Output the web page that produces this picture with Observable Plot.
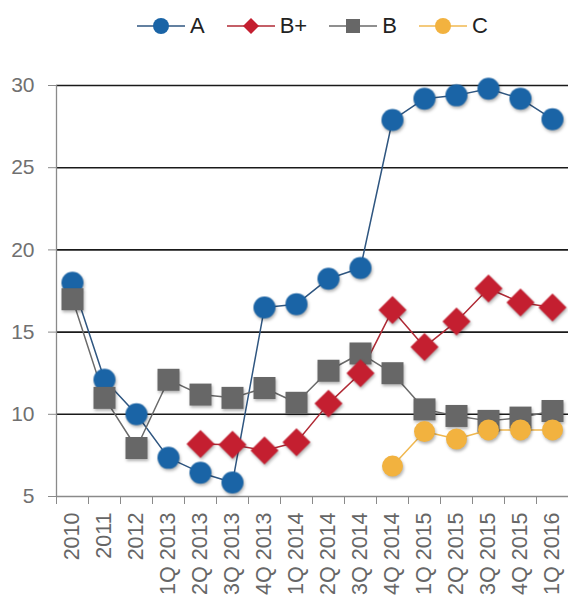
<!DOCTYPE html>
<html><head><meta charset="utf-8">
<script src="https://cdn.jsdelivr.net/npm/d3@7"></script>
<script src="https://cdn.jsdelivr.net/npm/@observablehq/plot@0.6"></script>
<style>
body{margin:0;background:#fff;font-family:"Liberation Sans",Arial,sans-serif;}
#legend{height:52px;display:flex;align-items:center;gap:22px;padding-left:137px;box-sizing:border-box;}
.item{display:flex;align-items:center;gap:5px;font-size:22px;color:#222;}
#chart svg g[aria-label="dot"]{filter:drop-shadow(1px 2px 1.5px rgba(0,0,0,0.3));}
</style></head>
<body>
<div id="legend"></div>
<div id="chart"></div>
<script>
const categories = ["2010","2011","2012","1Q 2013","2Q 2013","3Q 2013","4Q 2013","1Q 2014","2Q 2014","3Q 2014","4Q 2014","1Q 2015","2Q 2015","3Q 2015","4Q 2015","1Q 2016"];
const seriesNames = ["A","B+","B","C"];
const valuesA     = [18.0,12.1,10.0,7.35,6.45,5.85,16.5,16.7,18.25,18.9,27.9,29.2,29.4,29.8,29.2,27.95];
const valuesBplus = [null,null,null,null,8.2,8.15,7.8,8.3,10.65,12.5,16.35,14.1,15.65,17.65,16.8,16.5];
const valuesB     = [17.0,11.0,7.95,12.1,11.2,11.0,11.6,10.7,12.65,13.7,12.5,10.3,9.9,9.6,9.8,10.2];
const valuesC     = [null,null,null,null,null,null,null,null,null,null,6.85,8.95,8.5,9.05,9.05,9.05];
const yTicks = [5,10,15,20,25,30];

const styles = {
  "A":  {fill:"#1a64a6", line:"#2f5680", symbol:"circle", r:11, lsym:"circle"},
  "B+": {fill:"#c41f30", line:"#b02a35", symbol:"diamond2", r:12.6, lsym:"diamond"},
  "B":  {fill:"#676767", line:"#6a6a6a", symbol:"square", r:12.4, lsym:"square"},
  "C":  {fill:"#f2b23f", line:"#f0b850", symbol:"circle", r:10.5, lsym:"circle"}
};
const valueLists = [valuesA, valuesBplus, valuesB, valuesC];

function rowsFor(name, vals){
  return categories.map((c,i)=>({cat:c, value:vals[i], series:name})).filter(d=>d.value!=null);
}
const data = {};
seriesNames.forEach((n,i)=>data[n]=rowsFor(n, valueLists[i]));

// legend
const legend = document.getElementById("legend");
seriesNames.forEach(n=>{
  const s = styles[n];
  const item = document.createElement("div");
  item.className="item";
  let marker;
  if (s.lsym==="circle") marker = `<circle cx="24" cy="10" r="8" fill="${s.fill}"/>`;
  else if (s.lsym==="square") marker = `<rect x="17" y="3" width="14" height="14" fill="${s.fill}"/>`;
  else marker = `<path d="M24 2 L32 10 L24 18 L16 10 Z" fill="${s.fill}"/>`;
  item.innerHTML = `<svg width="48" height="20"><line x1="0" x2="48" y1="10" y2="10" stroke="${s.line}" stroke-width="1.3"/>${marker}</svg><span>${n}</span>`;
  legend.appendChild(item);
});

const order = ["A","B","B+","C"];
const marks = [
  Plot.ruleY([10,15,20,25,30], {stroke:"#1a1a1a", strokeWidth:1.6}),
  Plot.ruleY([5], {stroke:"#8a8a8a", strokeWidth:1.3}),
  Plot.ruleX([categories[0]], {y1:30, y2:5, dx:-16, stroke:"#8a8a8a", strokeWidth:1.3}),
  Plot.axisY(yTicks, {tickSize:8, tickPadding:14, stroke:"#8a8a8a", fill:"#707070", fontSize:21, label:null}),
  Plot.axisX(categories, {tickSize:8, dx:-16, text:null, stroke:"#8a8a8a", label:null}),
  Plot.axisX(categories, {tickSize:0, tickPadding:16, tickRotate:-90, fill:"#666", fontSize:21.5, label:null})
];
order.forEach(n=>{
  const s = styles[n];
  marks.push(Plot.line(data[n], {x:"cat", y:"value", stroke:s.line, strokeWidth:1.5}));
});
order.forEach(n=>{
  const s = styles[n];
  marks.push(Plot.dot(data[n], {x:"cat", y:"value", symbol:()=>s.symbol, r:s.r, fill:s.fill, stroke:"none"}));
});

const chart = Plot.plot({
  width:568, height:556,
  marginTop:33, marginBottom:112, marginLeft:56, marginRight:0,
  style:{fontFamily:"Liberation Sans, Arial, sans-serif", fontSize:"21px", background:"white", overflow:"visible"},
  x:{type:"band", domain:categories, padding:0, axis:null},
  y:{domain:[5,30], axis:null},
  symbol:{type:"identity"},
  marks
});
document.getElementById("chart").appendChild(chart);
</script>
</body></html>
